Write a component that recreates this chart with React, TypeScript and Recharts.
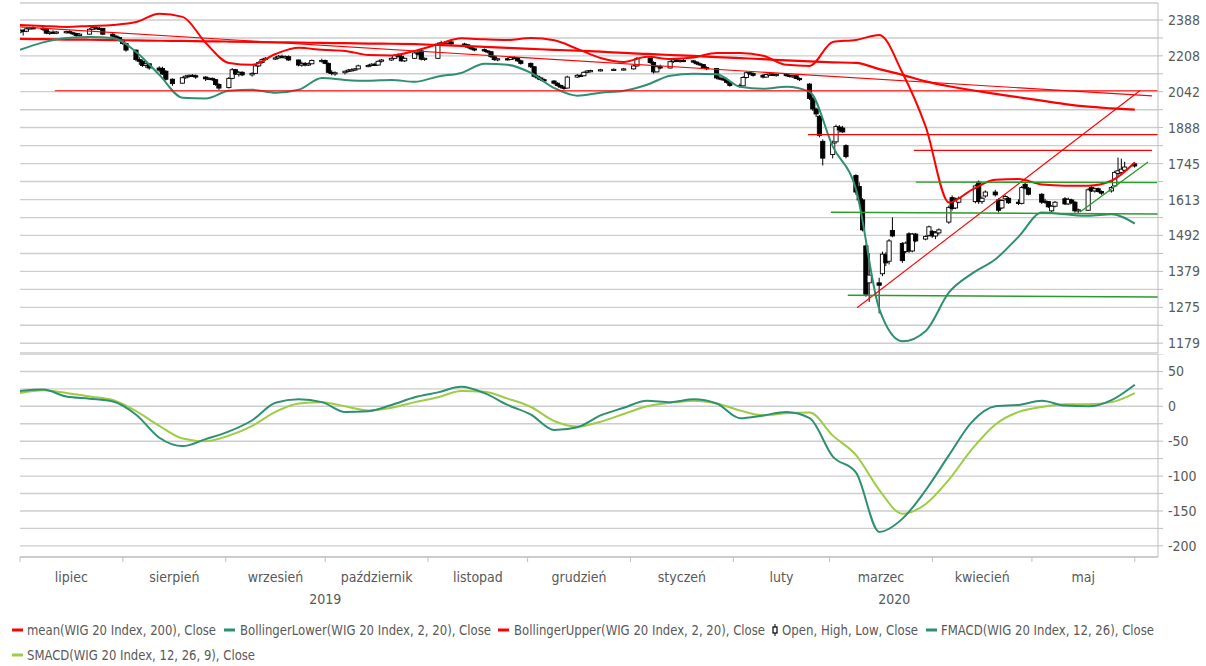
import React from 'react';
import { ComposedChart, Line, Bar, XAxis, YAxis, CartesianGrid, ReferenceLine } from 'recharts';

const FONT = '"Liberation Sans Narrow", "DejaVu Sans Condensed", "Open Sans", sans-serif';
const TEXT_COLOR = '#595959';
const GRID = '#cdcdcd';
const AXIS = '#bfbfbf';
const RED = '#ff0000';
const TEAL = '#2f8f72';
const LIME = '#9dcc45';
const GREEN = '#2c9a2c';

const W = 1206;
const PLOT_LEFT = 20;
const AXIS_W = 48;

// ---- calendar (x axis = calendar days since 2019-07-01) ----
const START_UTC = Date.UTC(2019, 6, 1);
const DAY_MS = 86400000;
const X_DOMAIN: [number, number] = [0, 343];
const LAST_DAY = 336;
const marketHolidays = [
  '2019-08-15', '2019-11-01', '2019-11-11', '2019-12-24', '2019-12-25', '2019-12-26', '2019-12-31',
  '2020-01-01', '2020-01-06', '2020-04-10', '2020-04-13', '2020-05-01',
];

const monthNames = ['lipiec', 'sierpień', 'wrzesień', 'październik', 'listopad', 'grudzień', 'styczeń', 'luty', 'marzec', 'kwiecień', 'maj'];
const monthStartDays = [0, 31, 62, 92, 123, 153, 184, 215, 244, 275, 305, 336];
const yearNames = ['2019', '2020'];
const yearSpans: [number, number][] = [[0, 184], [184, 343]];

// ---- WIG 20 daily candles [open, high, low, close] ----
const candleOHLC: [number, number, number, number][] = [
  // July 2019
  [2325, 2345, 2318, 2335], [2335, 2340, 2308, 2330], [2330, 2348, 2325, 2342], [2342, 2352, 2338, 2348], [2348, 2356, 2340, 2345],
  [2345, 2350, 2330, 2340], [2340, 2345, 2315, 2320], [2320, 2330, 2312, 2325], [2325, 2335, 2318, 2322], [2322, 2330, 2315, 2326],
  [2326, 2332, 2318, 2328], [2328, 2335, 2318, 2322], [2322, 2328, 2310, 2318], [2318, 2322, 2302, 2308], [2308, 2320, 2304, 2315],
  [2315, 2345, 2313, 2340], [2340, 2352, 2336, 2348], [2348, 2356, 2340, 2345], [2345, 2352, 2338, 2344], [2344, 2346, 2310, 2315],
  [2315, 2320, 2300, 2305], [2305, 2310, 2292, 2298], [2298, 2303, 2278, 2285],
  // August
  [2285, 2290, 2262, 2268], [2268, 2272, 2228, 2236], [2236, 2238, 2182, 2190], [2190, 2202, 2165, 2182], [2182, 2190, 2155, 2162],
  [2162, 2176, 2150, 2170], [2170, 2174, 2142, 2150], [2150, 2158, 2130, 2140], [2148, 2156, 2118, 2122], [2135, 2140, 2092, 2098],
  [2098, 2102, 2068, 2078], [2080, 2110, 2078, 2105], [2105, 2118, 2100, 2112], [2112, 2120, 2105, 2116], [2116, 2122, 2108, 2114],
  [2114, 2120, 2100, 2108], [2108, 2112, 2090, 2100], [2100, 2108, 2094, 2102], [2102, 2106, 2090, 2096], [2096, 2100, 2068, 2074],
  [2074, 2080, 2050, 2058],
  // September
  [2060, 2108, 2056, 2102], [2102, 2150, 2098, 2142], [2142, 2146, 2118, 2122], [2122, 2136, 2110, 2130], [2130, 2135, 2112, 2118],
  [2118, 2130, 2110, 2125], [2125, 2165, 2122, 2160], [2160, 2182, 2155, 2176], [2176, 2196, 2170, 2190], [2190, 2202, 2185, 2196],
  [2196, 2206, 2188, 2198], [2198, 2212, 2192, 2206], [2206, 2214, 2196, 2200], [2200, 2210, 2192, 2204], [2204, 2210, 2184, 2188],
  [2188, 2190, 2158, 2164], [2164, 2180, 2156, 2172], [2172, 2178, 2158, 2164], [2164, 2176, 2160, 2170], [2170, 2190, 2168, 2186],
  [2186, 2194, 2176, 2186],
  // October
  [2186, 2190, 2168, 2172], [2172, 2176, 2124, 2130], [2130, 2140, 2116, 2124], [2124, 2134, 2114, 2128], [2128, 2138, 2120, 2135],
  [2135, 2146, 2130, 2140], [2140, 2148, 2134, 2142], [2142, 2150, 2136, 2146], [2146, 2166, 2144, 2160], [2160, 2168, 2154, 2162],
  [2162, 2172, 2158, 2168], [2168, 2176, 2160, 2164], [2164, 2186, 2162, 2182], [2182, 2192, 2176, 2188], [2188, 2200, 2184, 2196],
  [2196, 2216, 2192, 2210], [2210, 2220, 2200, 2206], [2206, 2212, 2180, 2184], [2184, 2200, 2178, 2196], [2196, 2228, 2194, 2222],
  [2222, 2230, 2210, 2216], [2232, 2238, 2186, 2192], [2192, 2200, 2184, 2196],
  // November
  [2196, 2274, 2194, 2266], [2266, 2282, 2260, 2272], [2272, 2278, 2262, 2268], [2268, 2284, 2264, 2276], [2276, 2280, 2262, 2266],
  [2266, 2272, 2256, 2262], [2262, 2266, 2244, 2250], [2250, 2256, 2236, 2242], [2242, 2248, 2230, 2238], [2238, 2244, 2226, 2232],
  [2232, 2236, 2220, 2228], [2228, 2230, 2198, 2204], [2204, 2210, 2184, 2190], [2190, 2198, 2182, 2194], [2194, 2200, 2186, 2190],
  [2190, 2204, 2188, 2200], [2200, 2206, 2192, 2198], [2198, 2202, 2180, 2184], [2184, 2190, 2166, 2172],
  // December
  [2172, 2176, 2150, 2156], [2156, 2158, 2106, 2112], [2112, 2118, 2096, 2104], [2104, 2110, 2090, 2096], [2096, 2102, 2084, 2090],
  [2090, 2094, 2074, 2080], [2080, 2085, 2064, 2070], [2070, 2074, 2056, 2062], [2062, 2068, 2050, 2058], [2058, 2114, 2056, 2108],
  [2108, 2122, 2104, 2116], [2116, 2120, 2108, 2114], [2114, 2134, 2112, 2130], [2130, 2140, 2126, 2136], [2136, 2142, 2130, 2138],
  [2138, 2146, 2134, 2142], [2142, 2148, 2136, 2144], [2144, 2150, 2138, 2146],
  // January 2020
  [2146, 2166, 2142, 2160], [2160, 2202, 2156, 2196], [2196, 2200, 2170, 2176], [2176, 2182, 2124, 2132], [2132, 2162, 2130, 2156],
  [2156, 2166, 2144, 2150], [2150, 2186, 2148, 2180], [2180, 2192, 2174, 2188], [2188, 2192, 2178, 2182], [2182, 2190, 2176, 2186],
  [2186, 2192, 2180, 2184], [2184, 2188, 2172, 2178], [2178, 2182, 2164, 2170], [2170, 2176, 2160, 2166], [2166, 2168, 2146, 2152],
  [2152, 2158, 2140, 2148], [2148, 2150, 2098, 2104], [2104, 2112, 2094, 2100], [2100, 2108, 2090, 2096], [2096, 2100, 2078, 2084],
  [2084, 2090, 2064, 2070],
  // February
  [2070, 2078, 2060, 2068], [2068, 2112, 2066, 2106], [2106, 2134, 2102, 2128], [2128, 2134, 2118, 2124], [2124, 2130, 2110, 2116],
  [2116, 2122, 2102, 2108], [2108, 2124, 2106, 2120], [2120, 2128, 2114, 2122], [2122, 2126, 2112, 2118], [2118, 2124, 2110, 2120],
  [2120, 2126, 2110, 2116], [2116, 2120, 2106, 2112], [2112, 2118, 2104, 2114], [2114, 2116, 2098, 2102], [2102, 2106, 2090, 2096],
  [2076, 2080, 2005, 2012], [2012, 2020, 1958, 1966], [1966, 1972, 1932, 1945], [1935, 1940, 1848, 1856], [1832, 1840, 1738, 1766],
  // March
  [1780, 1835, 1765, 1825], [1830, 1900, 1822, 1892], [1890, 1898, 1868, 1878], [1886, 1895, 1866, 1870], [1815, 1820, 1765, 1772],
  [1700, 1705, 1630, 1640], [1660, 1675, 1600, 1612], [1612, 1618, 1505, 1510], [1458, 1462, 1305, 1312], [1345, 1435, 1290, 1368],
  [1345, 1360, 1258, 1338], [1372, 1440, 1365, 1432], [1430, 1438, 1395, 1405], [1410, 1480, 1400, 1474], [1508, 1552, 1486, 1490],
  [1466, 1470, 1405, 1412], [1440, 1472, 1435, 1467], [1497, 1502, 1436, 1442], [1442, 1500, 1438, 1496], [1496, 1500, 1470, 1474],
  [1480, 1492, 1476, 1488], [1492, 1524, 1488, 1520],
  // April
  [1505, 1510, 1484, 1490], [1490, 1506, 1480, 1500], [1500, 1515, 1494, 1510], [1536, 1592, 1530, 1586], [1620, 1628, 1575, 1582],
  [1584, 1620, 1580, 1614], [1604, 1624, 1600, 1618], [1606, 1668, 1600, 1662], [1676, 1682, 1598, 1606], [1606, 1624, 1598, 1618],
  [1626, 1646, 1620, 1640], [1640, 1648, 1624, 1630], [1612, 1618, 1568, 1576], [1584, 1614, 1580, 1610], [1616, 1630, 1610, 1624],
  [1618, 1622, 1598, 1602], [1604, 1614, 1594, 1600], [1600, 1662, 1596, 1656], [1668, 1674, 1650, 1654], [1654, 1658, 1628, 1632],
  // May
  [1632, 1636, 1598, 1604], [1608, 1616, 1598, 1606], [1606, 1608, 1584, 1588], [1574, 1594, 1568, 1590], [1590, 1608, 1586, 1604],
  [1616, 1622, 1594, 1598], [1598, 1620, 1594, 1614], [1612, 1616, 1598, 1602], [1604, 1608, 1568, 1574], [1574, 1582, 1566, 1578],
  [1576, 1654, 1574, 1648], [1656, 1662, 1640, 1644], [1644, 1656, 1638, 1652], [1652, 1656, 1638, 1642], [1642, 1646, 1630, 1636],
  [1644, 1662, 1638, 1656], [1662, 1718, 1658, 1712], [1708, 1768, 1700, 1718], [1712, 1764, 1704, 1724], [1720, 1752, 1712, 1732],
  // June 1
  [1744, 1750, 1730, 1736],
];

// ---- indicator readings, one per week (Mondays from 2019-07-01) ----
const mean200 = [2291, 2290, 2288, 2287, 2285, 2284, 2282, 2281, 2279, 2278, 2276, 2274, 2273, 2271, 2270, 2268, 2267, 2265, 2261, 2257,
  2252, 2247, 2242, 2237, 2233, 2228, 2222, 2217, 2212, 2208, 2202, 2197, 2192, 2186, 2181, 2177, 2174, 2145, 2118, 2088,
  2066, 2048, 2032, 2017, 2002, 1987, 1976, 1969, 1963];
const bollUpper = [2362, 2357, 2352, 2357, 2362, 2377, 2420, 2404, 2271, 2174, 2165, 2217, 2247, 2237, 2232, 2212, 2210, 2232, 2264, 2294,
  2289, 2286, 2296, 2284, 2242, 2198, 2179, 2203, 2193, 2200, 2222, 2222, 2208, 2165, 2160, 2276, 2286, 2311, 2127, 1891,
  1603, 1649, 1685, 1687, 1667, 1663, 1663, 1681, 1749];
const bollLower = [2237, 2274, 2296, 2301, 2296, 2227, 2118, 2015, 2012, 2046, 2050, 2037, 2050, 2104, 2095, 2091, 2095, 2086, 2111, 2127,
  2170, 2165, 2127, 2058, 2024, 2037, 2046, 2073, 2114, 2123, 2121, 2064, 2055, 2064, 2041, 1811, 1649, 1270, 1184, 1211,
  1317, 1373, 1416, 1488, 1568, 1562, 1557, 1562, 1531];
const fmacd = [22, 24, 14, 11, 7, -12, -45, -57, -47, -36, -20, 5, 10, 6, -8, -7, 2, 13, 20, 28,
  19, 2, -12, -34, -30, -13, -2, 8, 6, 10, 4, -17, -13, -8, -17, -72, -95, -180, -161, -120,
  -70, -22, 0, 2, 8, 1, 0, 9, 31];
const smacd = [19, 23, 19, 14, 9, -7, -28, -46, -50, -42, -28, -8, 4, 6, 0, -6, -2, 6, 13, 22,
  21, 11, -1, -21, -29, -22, -11, 0, 5, 8, 4, -6, -13, -10, -9, -42, -70, -120, -154, -140,
  -105, -61, -26, -8, -1, 3, 3, 6, 19];

// ---- drawn trend lines [day1, value1, day2, value2] ----
const redTrendLines: [number, number, number, number][] = [
  [0, 2352, 341.2, 2023],
  [10.5, 2046, 343, 2046],
  [237.5, 1859, 343, 1859],
  [269.4, 1796, 341.2, 1796],
  [252.3, 1274, 337.6, 2047],
];
const greenTrendLines: [number, number, number, number][] = [
  [270, 1676, 342.7, 1674],
  [244.4, 1569, 343, 1563],
  [249.5, 1309, 343, 1304],
  [319.5, 1570, 340, 1751],
];

// ---- axis ticks ----
const priceLabels = [2388, 2208, 2042, 1888, 1745, 1613, 1492, 1379, 1275, 1179];
const priceMidTicks = [2296, 2123, 1963, 1815, 1678, 1551, 1434, 1326, 1226];
const priceDomain: [number, number] = [1154, 2478];
const macdTicks = [75, 50, 25, 0, -25, -50, -75, -100, -125, -150, -175, -200];
const macdLabels = [50, 0, -50, -100, -150, -200];
const macdDomain: [number, number] = [-216, 75];

// ---- derived tables ----
const tradingDays: number[] = [];
for (let d = 0; d <= LAST_DAY; d++) {
  const dt = new Date(START_UTC + d * DAY_MS);
  const wd = dt.getUTCDay();
  if (wd === 0 || wd === 6) continue;
  if (marketHolidays.includes(dt.toISOString().slice(0, 10))) continue;
  tradingDays.push(d);
}
const byDay = new Map<number, any>();
candleOHLC.forEach(([o, h, l, c], i) => {
  if (i >= tradingDays.length) return;
  const x = tradingDays[i];
  byDay.set(x, { x, o, h, l, c, range: [l, h] });
});
const weekly = bollUpper.map((_, i) => ({
  x: i * 7, mean: mean200[i], upper: bollUpper[i], lower: bollLower[i], f: fmacd[i], s: smacd[i],
}));
weekly.forEach((w) => {
  const e = byDay.get(w.x) || { x: w.x };
  byDay.set(w.x, { ...e, mean: w.mean, upper: w.upper, lower: w.lower });
});
const priceData = Array.from(byDay.values()).sort((a, b) => a.x - b.x);

const priceTicks = [...priceLabels, ...priceMidTicks].sort((a, b) => a - b);
const monthCenters = monthNames.map((_, i) => (monthStartDays[i] + monthStartDays[i + 1]) / 2);
const monthAxisTicks = [...monthStartDays, ...monthCenters].sort((a, b) => a - b);
const yearCenters = yearSpans.map(([a, b]) => (a + b) / 2);

const Candle = (props: any) => {
  const { x, y, width, height, payload } = props;
  if (!payload || payload.o == null || x == null || y == null) return <g />;
  const { o, h, l, c } = payload;
  const top = Math.min(y, y + height);
  const hgt = Math.abs(height);
  const cx = x + width / 2;
  const lnH = Math.log(h);
  const span = lnH - Math.log(l) || 1;
  const py = (v: number) => top + ((lnH - Math.log(v)) / span) * hgt;
  const b1 = Math.min(py(o), py(c));
  const b2 = Math.max(py(o), py(c));
  const up = c >= o;
  const bw = 4.2;
  return (
    <g>
      <line x1={cx} x2={cx} y1={top} y2={top + hgt} stroke="#000" strokeWidth={1} />
      <rect x={cx - bw / 2} y={b1} width={bw} height={Math.max(b2 - b1, 1.2)} fill={up ? '#fff' : '#000'} stroke="#000" strokeWidth={0.9} />
    </g>
  );
};

const PriceTick = (props: any) => {
  const { x, y, payload } = props;
  if (!priceLabels.includes(payload.value)) return <g />;
  return (
    <text x={x} y={y} dy={5} fontSize={14} fill={TEXT_COLOR} fontFamily={FONT} textAnchor="start">{payload.value}</text>
  );
};
const MacdTick = (props: any) => {
  const { x, y, payload } = props;
  if (!macdLabels.includes(payload.value)) return <g />;
  return (
    <text x={x} y={y} dy={5} fontSize={14} fill={TEXT_COLOR} fontFamily={FONT} textAnchor="start">{payload.value}</text>
  );
};
const MonthTick = (props: any) => {
  const { x, y, payload } = props;
  const v = payload.value;
  if (monthStartDays.includes(v)) return <line x1={x} x2={x} y1={y} y2={y + 5} stroke={AXIS} strokeWidth={1} />;
  const mi = monthCenters.indexOf(v);
  if (mi >= 0) {
    return <text x={x} y={y + 25} fontSize={14} fill={TEXT_COLOR} fontFamily={FONT} textAnchor="middle">{monthNames[mi]}</text>;
  }
  return <g />;
};
const YearTick = (props: any) => {
  const { x, y, payload } = props;
  const yi = yearCenters.indexOf(payload.value);
  if (yi < 0) return <g />;
  return <text x={x} y={y + 17} fontSize={14} fill={TEXT_COLOR} fontFamily={FONT} textAnchor="middle">{yearNames[yi]}</text>;
};

const legendRows = [
  { row: 0, kind: 'line', color: RED, mx: 12, tx: 27, tw: 189, label: 'mean(WIG 20 Index, 200), Close' },
  { row: 0, kind: 'line', color: TEAL, mx: 224, tx: 240, tw: 251, label: 'BollingerLower(WIG 20 Index, 2, 20), Close' },
  { row: 0, kind: 'line', color: RED, mx: 498, tx: 514, tw: 251, label: 'BollingerUpper(WIG 20 Index, 2, 20), Close' },
  { row: 0, kind: 'candle', color: '#000', mx: 773, tx: 782, tw: 136, label: 'Open, High, Low, Close' },
  { row: 0, kind: 'line', color: TEAL, mx: 926, tx: 941, tw: 213, label: 'FMACD(WIG 20 Index, 12, 26), Close' },
  { row: 1, kind: 'line', color: LIME, mx: 12, tx: 27, tw: 228, label: 'SMACD(WIG 20 Index, 12, 26, 9), Close' },
];

export default function App() {
  return (
    <div style={{ position: 'absolute', left: 0, top: 0, width: W, height: 666, background: '#fff', overflow: 'hidden' }}>
      <div style={{ position: 'absolute', left: 0, top: 0 }}>
        <ComposedChart width={W} height={354} data={priceData} margin={{ top: 3, right: 0, bottom: 1, left: PLOT_LEFT }}>
          <CartesianGrid horizontal vertical={false} stroke={GRID} strokeWidth={1.4} />
          <XAxis dataKey="x" type="number" domain={X_DOMAIN} allowDataOverflow hide />
          <YAxis
            orientation="right" scale="log" domain={priceDomain} allowDataOverflow ticks={priceTicks} interval={0}
            width={AXIS_W} tick={<PriceTick />} tickLine={{ stroke: AXIS }} axisLine={{ stroke: AXIS }} tickSize={5} tickMargin={5}
          />
          <Bar dataKey="range" barSize={3} shape={<Candle />} isAnimationActive={false} />
          <Line dataKey="mean" type="monotone" stroke={RED} strokeWidth={2.2} dot={false} connectNulls isAnimationActive={false} />
          <Line dataKey="upper" type="monotone" stroke={RED} strokeWidth={2} dot={false} connectNulls isAnimationActive={false} />
          <Line dataKey="lower" type="monotone" stroke={TEAL} strokeWidth={2} dot={false} connectNulls isAnimationActive={false} />
          {redTrendLines.map(([x1, y1, x2, y2], i) => (
            <ReferenceLine key={'r' + i} segment={[{ x: x1, y: y1 }, { x: x2, y: y2 }]} stroke={RED} strokeWidth={1.1} ifOverflow="visible" />
          ))}
          {greenTrendLines.map(([x1, y1, x2, y2], i) => (
            <ReferenceLine key={'g' + i} segment={[{ x: x1, y: y1 }, { x: x2, y: y2 }]} stroke={GREEN} strokeWidth={1.4} ifOverflow="visible" />
          ))}
        </ComposedChart>
      </div>
      <div style={{ position: 'absolute', left: 0, top: 354 }}>
        <ComposedChart width={W} height={260} data={weekly} margin={{ top: 0, right: 0, bottom: 0, left: PLOT_LEFT }}>
          <CartesianGrid horizontal vertical={false} stroke={GRID} strokeWidth={1.4} />
          <XAxis
            dataKey="x" type="number" domain={X_DOMAIN} allowDataOverflow ticks={monthAxisTicks} interval={0}
            height={30} tickSize={0} tickMargin={0} tickLine={false} axisLine={{ stroke: AXIS }} tick={<MonthTick />}
          />
          <XAxis
            xAxisId="year" dataKey="x" type="number" domain={X_DOMAIN} allowDataOverflow ticks={yearCenters} interval={0}
            height={27} tickSize={0} tickMargin={0} tickLine={false} axisLine={false} tick={<YearTick />}
          />
          <YAxis
            orientation="right" domain={macdDomain} allowDataOverflow ticks={macdTicks} interval={0}
            width={AXIS_W} tick={<MacdTick />} tickLine={{ stroke: AXIS }} axisLine={{ stroke: AXIS }} tickSize={5} tickMargin={5}
          />
          <Line dataKey="s" type="monotone" stroke={LIME} strokeWidth={2} dot={false} isAnimationActive={false} />
          <Line dataKey="f" type="monotone" stroke={TEAL} strokeWidth={2} dot={false} isAnimationActive={false} />
        </ComposedChart>
      </div>
      <svg style={{ position: 'absolute', left: 0, top: 614 }} width={W} height={52}>
        {legendRows.map((it, i) => {
          const cy = 16 + it.row * 25;
          return (
            <g key={i}>
              {it.kind === 'line' ? (
                <line x1={it.mx} x2={it.mx + 11} y1={cy} y2={cy} stroke={it.color} strokeWidth={3} />
              ) : (
                <g>
                  <line x1={it.mx + 2} x2={it.mx + 2} y1={cy - 6} y2={cy + 6} stroke="#000" strokeWidth={1} />
                  <rect x={it.mx} y={cy - 3} width={4} height={6} fill="#fff" stroke="#000" strokeWidth={1.2} />
                </g>
              )}
              <text x={it.tx} y={cy + 5} fontSize={14} fill={TEXT_COLOR} fontFamily={FONT} textLength={it.tw} lengthAdjust="spacingAndGlyphs">
                {it.label}
              </text>
            </g>
          );
        })}
      </svg>
    </div>
  );
}
